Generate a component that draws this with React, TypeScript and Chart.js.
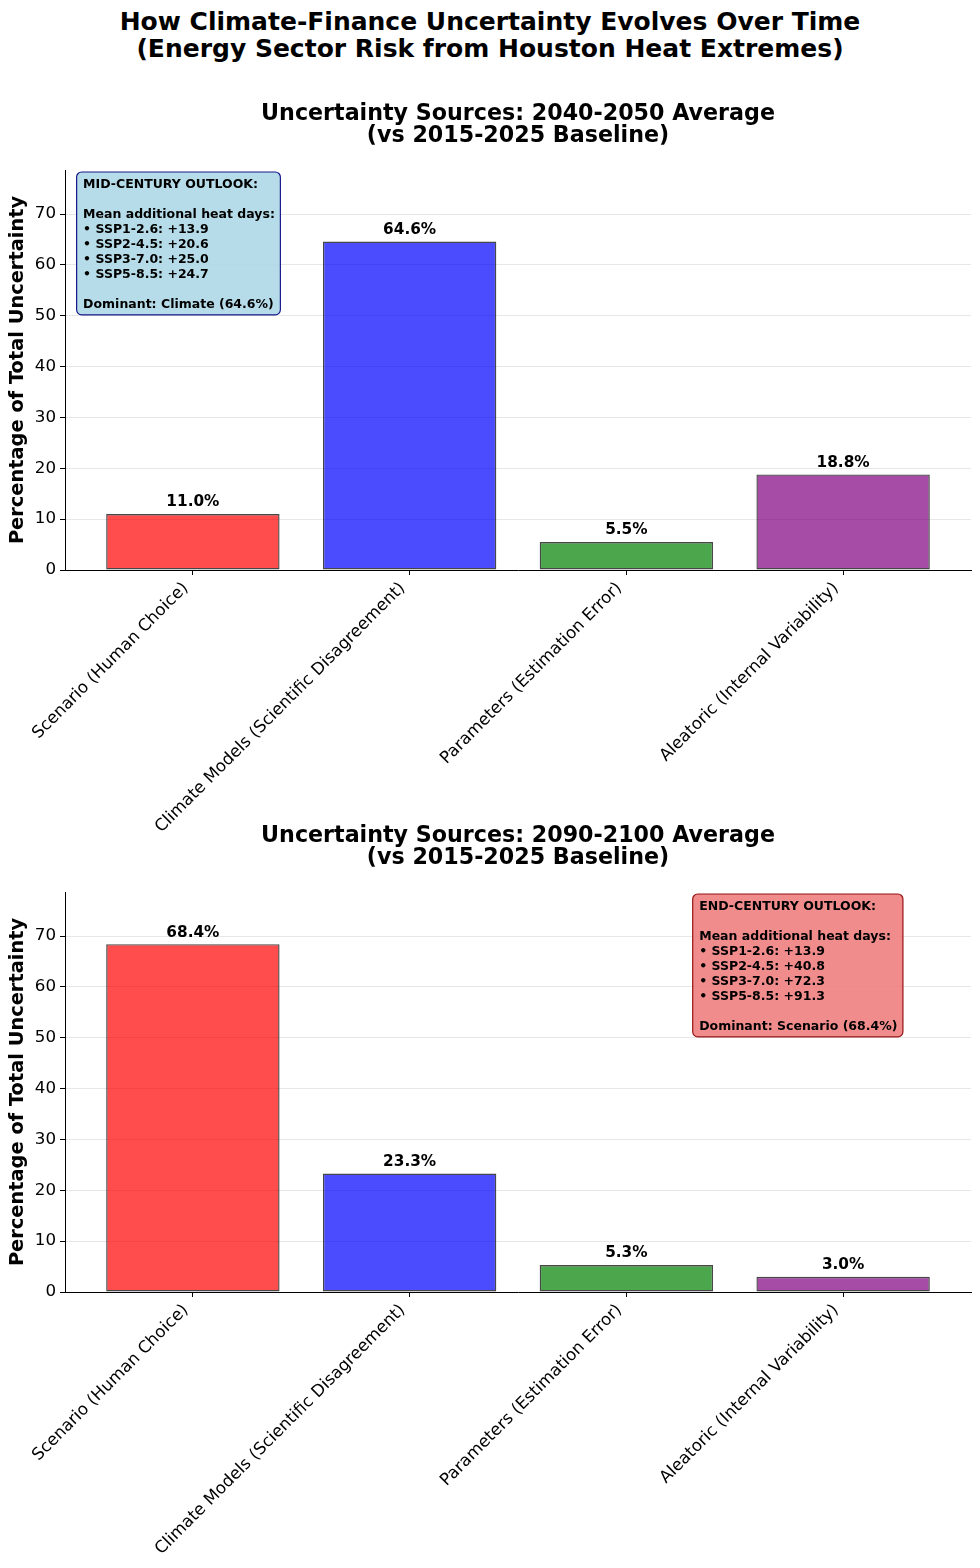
import React, { useEffect, useRef } from "react";
import { Chart, registerables } from "chart.js";

Chart.register(...registerables);

const FONT = "'DejaVu Sans', 'Liberation Sans', sans-serif";

// ---------- data ----------
const categories = [
  "Scenario (Human Choice)",
  "Climate Models (Scientific Disagreement)",
  "Parameters (Estimation Error)",
  "Aleatoric (Internal Variability)",
];
const midCenturyShares = [11.0, 64.6, 5.5, 18.8];
const endCenturyShares = [68.4, 23.3, 5.3, 3.0];
const barColors = [
  "rgba(255,0,0,0.7)",
  "rgba(0,0,255,0.7)",
  "rgba(0,128,0,0.7)",
  "rgba(128,0,128,0.7)",
];
const yTicks = [0, 10, 20, 30, 40, 50, 60, 70];
const yMax = 78.66;
const scenarioNames = ["SSP1-2.6", "SSP2-4.5", "SSP3-7.0", "SSP5-8.5"];
const midHeatDays = [13.9, 20.6, 25.0, 24.7];
const endHeatDays = [13.9, 40.8, 72.3, 91.3];
const suptitleLines = [
  "How Climate-Finance Uncertainty Evolves Over Time",
  "(Energy Sector Risk from Houston Heat Extremes)",
];
const midTitle = ["Uncertainty Sources: 2040-2050 Average", "(vs 2015-2025 Baseline)"];
const endTitle = ["Uncertainty Sources: 2090-2100 Average", "(vs 2015-2025 Baseline)"];
const yAxisTitle = "Percentage of Total Uncertainty";

const midBoxLines = [
  "MID-CENTURY OUTLOOK:",
  "",
  "Mean additional heat days:",
  ...scenarioNames.map((s, i) => `\u2022 ${s}: +${midHeatDays[i].toFixed(1)}`),
  "",
  "Dominant: Climate (64.6%)",
];
const endBoxLines = [
  "END-CENTURY OUTLOOK:",
  "",
  "Mean additional heat days:",
  ...scenarioNames.map((s, i) => `\u2022 ${s}: +${endHeatDays[i].toFixed(1)}`),
  "",
  "Dominant: Scenario (68.4%)",
];

type PanelProps = {
  values: number[];
  titleLines: string[];
  boxLines: string[];
  boxX: number;
  boxFill: string;
  boxEdge: string;
  height: number;
  top: number;
  xAxisHeight: number;
};

function Panel(props: PanelProps) {
  const ref = useRef<HTMLCanvasElement>(null);
  useEffect(() => {
    const canvas = ref.current!;
    const { values, titleLines, boxLines, boxX, boxFill, boxEdge, xAxisHeight } = props;

    const overlay = {
      id: "overlay",
      afterDatasetsDraw(chart: any) {
        const ctx = chart.ctx as CanvasRenderingContext2D;
        const meta = chart.getDatasetMeta(0);
        const ys = chart.scales.y;
        ctx.save();
        ctx.fillStyle = "#000";
        ctx.font = `bold 15.3px ${FONT}`;
        ctx.textAlign = "center";
        ctx.textBaseline = "alphabetic";
        meta.data.forEach((bar: any, i: number) => {
          const v = values[i];
          ctx.fillText(v.toFixed(1) + "%", bar.x, ys.getPixelForValue(v + 1) - 2.5);
        });

        // annotation box
        const ca = chart.chartArea;
        const fs = 12.5;
        const lh = 15;
        const pad = 6.5;
        ctx.font = `bold ${fs}px ${FONT}`;
        const w = Math.max(...boxLines.map((l) => ctx.measureText(l).width));
        const tx = ca.left + boxX * (ca.right - ca.left);
        const ty = ca.top + 0.02 * (ca.bottom - ca.top);
        const firstBase = ty + 9.8;
        const lastBase = firstBase + (boxLines.length - 1) * lh;
        const bx = tx - pad;
        const by = ty - pad + 0.5;
        const bw = w + 2 * pad - 1;
        const bh = lastBase + 7 - by;
        ctx.beginPath();
        (ctx as any).roundRect(bx, by, bw, bh, 5);
        ctx.fillStyle = boxFill;
        ctx.fill();
        ctx.lineWidth = 1.2;
        ctx.strokeStyle = boxEdge;
        ctx.stroke();
        ctx.fillStyle = "#000";
        ctx.textAlign = "left";
        boxLines.forEach((l, i) => {
          if (l) ctx.fillText(l, tx, firstBase + i * lh);
        });
        ctx.restore();
      },
    };

    const chart = new Chart(canvas, {
      type: "bar",
      data: {
        datasets: [
          {
            data: values.map((v, i) => ({ x: i, y: v })) as any,
            backgroundColor: barColors,
            borderColor: "rgba(0,0,0,0.72)",
            borderWidth: 1.4,
            borderSkipped: false,
            barPercentage: 0.8,
            categoryPercentage: 1,
          },
        ],
      },
      options: {
        responsive: false,
        animation: false,
        layout: { padding: { left: 0, right: 9, top: 0, bottom: 0 } },
        plugins: {
          legend: { display: false },
          tooltip: { enabled: false },
          title: {
            display: true,
            text: titleLines,
            color: "#000",
            fullSize: false,
            font: { family: FONT, size: 22.2, weight: "bold", lineHeight: 1.0 },
            padding: { top: 103, bottom: 22.6 },
          },
        },
        scales: {
          x: {
            type: "linear",
            min: -0.59,
            max: 3.59,
            offset: false,
            grid: {
              display: true,
              drawOnChartArea: false,
              drawTicks: true,
              tickLength: 5,
              tickColor: "#000",
              offset: false,
              lineWidth: 1,
            },
            border: { display: true, color: "#000", width: 1 },
            ticks: {
              autoSkip: false,
              maxRotation: 45,
              minRotation: 45,
              padding: 3.5,
              labelOffset: -7,
              color: "#000",
              font: { family: FONT, size: 16.7 },
              callback: (v: any) => categories[v as number] ?? "",
            },
            afterBuildTicks: (s: any) => {
              s.ticks = categories.map((_, i) => ({ value: i }));
            },
            afterFit: (s: any) => {
              s.height = xAxisHeight;
            },
          } as any,
          y: {
            type: "linear",
            min: 0,
            max: yMax,
            grid: {
              color: "rgba(176,176,176,0.3)",
              lineWidth: 1,
              tickColor: "#000",
              tickLength: 5,
            },
            border: { display: true, color: "#000", width: 1 },
            ticks: { padding: 4, color: "#000", font: { family: FONT, size: 16.7 } },
            afterBuildTicks: (s: any) => {
              s.ticks = yTicks.map((v) => ({ value: v }));
            },
            afterFit: (s: any) => {
              s.width = 65;
            },
            title: {
              display: true,
              text: yAxisTitle,
              color: "#000",
              font: { family: FONT, size: 19.4, weight: "bold", lineHeight: 1.2 },
              padding: { top: 6.5, bottom: 0 },
            },
          } as any,
        },
      },
      plugins: [overlay],
    });
    return () => chart.destroy();
  }, []);

  return (
    <canvas
      ref={ref}
      width={980}
      height={props.height}
      style={{ position: "absolute", left: 0, top: props.top, width: 980, height: props.height }}
    />
  );
}

export default function App() {
  return (
    <div
      style={{
        position: "absolute",
        left: 0,
        top: 0,
        width: 980,
        height: 1568,
        background: "#fff",
        overflow: "hidden",
      }}
    >
      <div
        style={{
          position: "absolute",
          left: 0,
          top: 7.5,
          width: 980,
          textAlign: "center",
          fontFamily: FONT,
          fontWeight: "bold",
          fontSize: "25px",
          lineHeight: "27px",
          color: "#000",
        }}
      >
        {suptitleLines.map((l, i) => (
          <div key={i}>{l}</div>
        ))}
      </div>
      <Panel
        values={midCenturyShares}
        titleLines={midTitle}
        boxLines={midBoxLines}
        boxX={0.02}
        boxFill="rgba(173,216,230,0.9)"
        boxEdge="rgba(0,0,128,0.9)"
        height={850}
        top={0}
        xAxisHeight={280}
      />
      <Panel
        values={endCenturyShares}
        titleLines={endTitle}
        boxLines={endBoxLines}
        boxX={0.7}
        boxFill="rgba(240,128,128,0.9)"
        boxEdge="rgba(139,0,0,0.9)"
        height={846}
        top={722}
        xAxisHeight={276}
      />
    </div>
  );
}
